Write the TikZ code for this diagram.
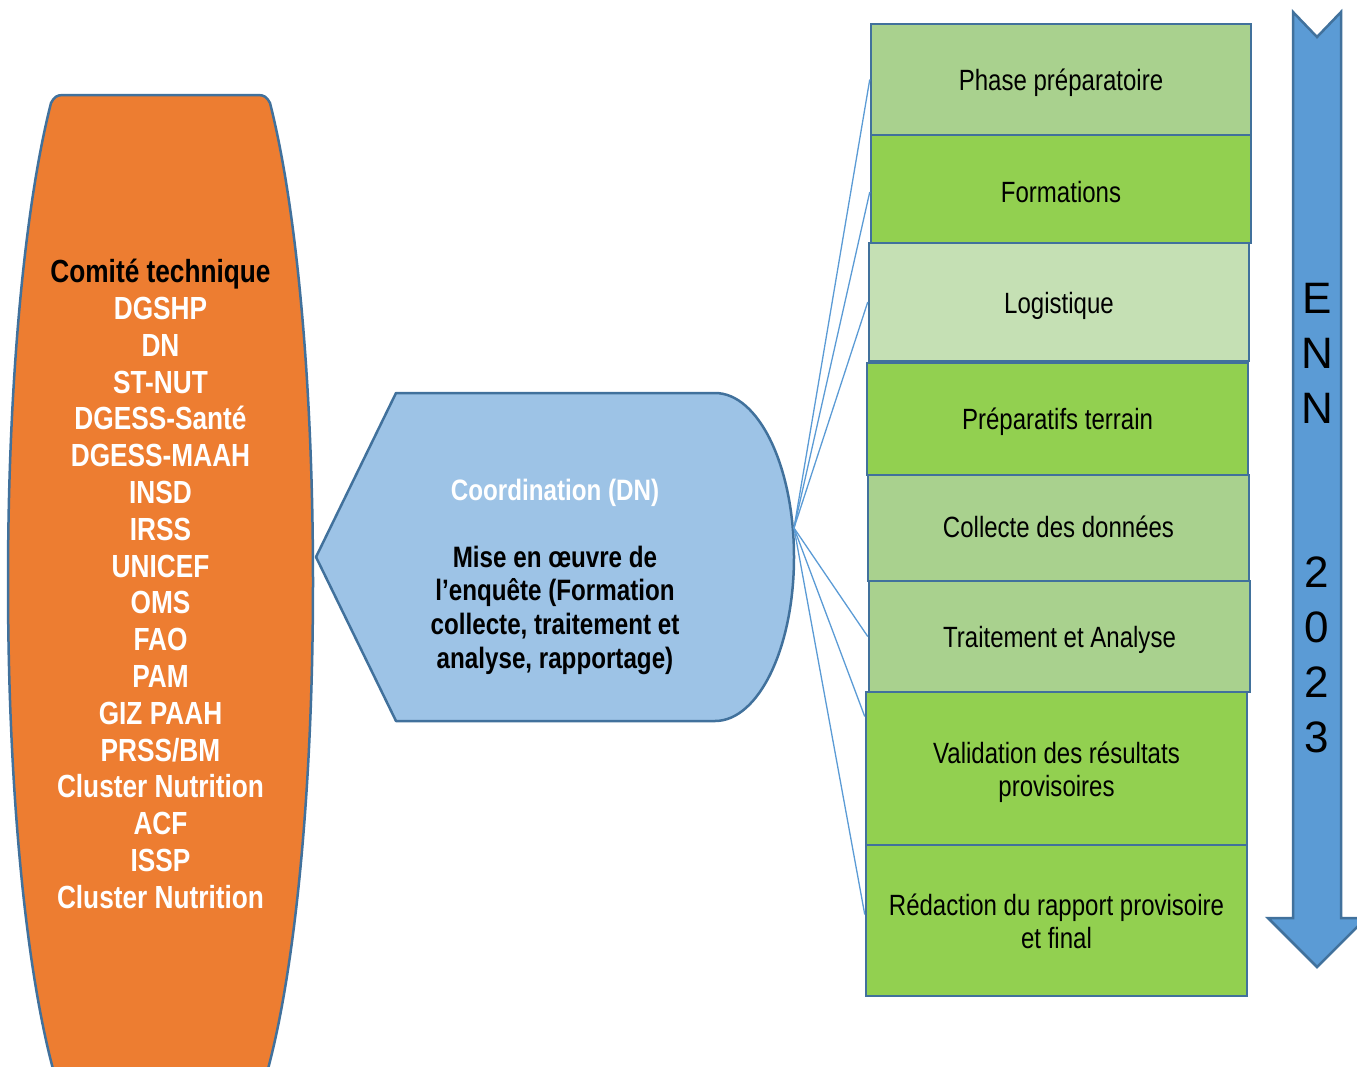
\documentclass[tikz,border=0pt]{standalone}
\usepackage{fontspec}
\setmainfont{Liberation Sans}
\newfontfamily\narrowfont[FakeStretch=0.82]{Liberation Sans}
\definecolor{orangefill}{HTML}{ED7D31}
\definecolor{edgeblue}{HTML}{41719C}
\definecolor{dispfill}{HTML}{9DC3E6}
\definecolor{arrowfill}{HTML}{5B9BD5}
\definecolor{linkblue}{HTML}{5B9BD5}
\definecolor{gmid}{HTML}{A9D18E}
\definecolor{gbright}{HTML}{92D050}
\definecolor{glight}{HTML}{C5E0B4}
\tikzset{
  outline/.style={draw=edgeblue, line width=2.5pt, line join=round},
  phasebox/.style={draw=edgeblue, line width=2.5pt, minimum width=380pt, inner sep=0pt},
  phasetext/.style={inner sep=0pt, align=center, text=black, font={\narrowfont\fontsize{29.3}{33.5}\selectfont}},
  link/.style={draw=linkblue, line width=1.3pt},
}
\begin{document}
\begin{tikzpicture}[x=1pt,y=-1pt]
\useasboundingbox (0,0) rectangle (1357,1066);
\clip (0,0) rectangle (1357,1066);

% orange committee shape
\path[outline, fill=orangefill] (63,95) -- (258,95)
  .. controls (264,95) and (267,97) .. (270,103)
  .. controls (296,205) and (313,380) .. (313,582)
  .. controls (313,784) and (296,964) .. (268,1069)
  -- (53,1069)
  .. controls (25,964) and (8,784) .. (8,582)
  .. controls (8,380) and (25,205) .. (51,103)
  .. controls (54,97) and (57,95) .. (63,95) -- cycle;
\node[align=center, font={\narrowfont\bfseries\fontsize{32}{36.8}\selectfont}, text=white] (ct) at (160.5,584)
  {\textcolor{black}{Comité technique}\\DGSHP\\DN\\ST-NUT\\DGESS-Santé\\DGESS-MAAH\\INSD\\IRSS\\UNICEF\\OMS\\FAO\\PAM\\GIZ PAAH\\PRSS/BM\\Cluster Nutrition\\ACF\\ISSP\\Cluster Nutrition};

% coordination display shape
\path[outline, fill=dispfill] (316,557) -- (396,393) -- (715,393)
  .. controls (758.6,393) and (794,466.4) .. (794,557)
  .. controls (794,647.6) and (758.6,721) .. (715,721)
  -- (396,721) -- cycle;
\coordinate (dnout) at (794,528);
\node[align=center, font={\narrowfont\bfseries\fontsize{29.5}{33.6}\selectfont}, text=black] (dn) at (555,576.5)
  {\textcolor{white}{Coordination (DN)}\\[33.6pt]Mise en œuvre de\\l’enquête (Formation\\collecte, traitement et\\analyse, rapportage)};

% phase boxes
\node[phasebox, fill=gmid, minimum height=111pt] (b1) at (1061,79.5) {};
\node[phasebox, fill=gbright, minimum height=108pt] (b2) at (1061,189) {};
\node[phasebox, fill=glight, minimum height=118pt] (b3) at (1059,302) {};
\node[phasebox, fill=gbright, minimum height=112pt, minimum width=381pt] (b4) at (1057.5,419) {};
\node[phasebox, fill=gmid, minimum height=106pt, minimum width=381pt] (b5) at (1058.5,528) {};
\node[phasebox, fill=gmid, minimum height=111pt, minimum width=381pt] (b6) at (1059.5,636.5) {};
\node[phasebox, fill=gbright, minimum height=153pt, minimum width=381pt] (b7) at (1056.5,768.5) {};
\node[phasebox, fill=gbright, minimum height=151pt, minimum width=381pt] (b8) at (1056.5,920.5) {};

\node[phasetext] (t1) at ([yshift=-3pt]b1.center) {Phase préparatoire};
\node[phasetext] (t2) at ([yshift=-3pt]b2.center) {Formations};
\node[phasetext] (t3) at ([yshift=-4pt]b3.center) {Logistique};
\node[phasetext] (t4) at ([yshift=-3pt]b4.center) {Préparatifs terrain};
\node[phasetext] (t5) at ([yshift=1pt]b5.center) {Collecte des données};
\node[phasetext] (t6) at ([yshift=-3pt]b6.center) {Traitement et Analyse};
\node[phasetext] (t7) at ([yshift=-3.5pt]b7.center) {Validation des résultats\\provisoires};
\node[phasetext] (t8) at ([yshift=-1pt]b8.center) {Rédaction du rapport provisoire\\et final};

% connectors
\draw[link] (dnout) -- (b1.west);
\draw[link] (dnout) -- ([yshift=-3pt]b2.west);
\draw[link] (dnout) -- (b3.west);
\draw[link] (dnout) -- (b6.west);
\draw[link] (dnout) -- ([yshift=52pt]b7.west);
\draw[link] (dnout) -- ([yshift=6pt]b8.west);

% ENN 2023 arrow
\path[outline, line join=miter, fill=arrowfill] (1293,12) -- (1317,37) -- (1341,12) -- (1341,918)
  -- (1366,918) -- (1317,967) -- (1268,918) -- (1293,918) -- cycle;
\node[align=center, font={\fontsize{44}{54.8}\selectfont}, text=black] (enn) at (1317,518)
  {E\\N\\N\\[109.6pt]2\\0\\2\\3};
\end{tikzpicture}
\end{document}
